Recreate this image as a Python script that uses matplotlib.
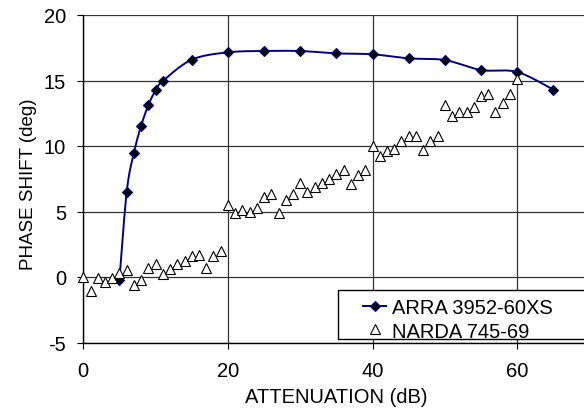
import numpy as np
import matplotlib
matplotlib.use("Agg")
import matplotlib.pyplot as plt
from matplotlib.patches import Rectangle
from matplotlib.lines import Line2D

plt.rcParams['font.family'] = ['Liberation Sans', 'DejaVu Sans']
plt.rcParams['axes.unicode_minus'] = False

# ---- data ----
arra_label = "ARRA 3952-60XS"
arra_x = [5, 6, 7, 8, 9, 10, 11, 15, 20, 25, 30, 35, 40, 45, 50, 55, 60, 65]
arra_y = [-0.2, 6.5, 9.5, 11.55, 13.13, 14.25, 14.96, 16.59, 17.15, 17.25, 17.25,
          17.07, 17.0, 16.69, 16.56, 15.8, 15.65, 14.3]

narda_label = "NARDA 745-69"
narda_x = list(range(0, 61))
narda_y = [0.0, -1.1, -0.1, -0.4, -0.1, 0.3, 0.5, -0.6, -0.2, 0.7,
           1.0, 0.2, 0.6, 1.0, 1.2, 1.6, 1.7, 0.7, 1.6, 2.0,
           5.5, 4.9, 5.1, 5.0, 5.3, 6.1, 6.3, 4.9, 5.9, 6.3,
           7.2, 6.5, 6.9, 7.2, 7.5, 7.9, 8.2, 7.1, 7.8, 8.2,
           10.0, 9.2, 9.6, 9.8, 10.4, 10.8, 10.8, 9.7, 10.4, 10.8,
           13.1, 12.3, 12.6, 12.6, 13.0, 13.8, 14.0, 12.6, 13.3, 14.0,
           15.1]

x_ticks = [0, 20, 40, 60]
y_ticks = [-5, 0, 5, 10, 15, 20]
x_label = "ATTENUATION (dB)"
y_label = "PHASE SHIFT (deg)"


def smooth_curve(xs, ys, n=30):
    """Excel-style smoothed line (cardinal/Catmull-Rom Bezier through points)."""
    P = np.column_stack([xs, ys]).astype(float)
    out = []
    m = len(P)
    t = np.linspace(0, 1, n)[:, None]
    for i in range(m - 1):
        p0 = P[i - 1] if i > 0 else P[i]
        p1 = P[i]
        p2 = P[i + 1]
        p3 = P[i + 2] if i + 2 < m else P[i + 1]
        c1 = p1 + (p2 - p0) / 6.0
        c2 = p2 - (p3 - p1) / 6.0
        seg = ((1 - t) ** 3) * p1 + 3 * ((1 - t) ** 2) * t * c1 + 3 * (1 - t) * t ** 2 * c2 + t ** 3 * p2
        out.append(seg if i == 0 else seg[1:])
    out = np.vstack(out)
    return out[:, 0], out[:, 1]


FS = 14.5
W, H = 584, 410
fig = plt.figure(figsize=(W / 100, H / 100), dpi=100)
ax_l, ax_r, ax_t, ax_b = 83.3, 589.5, 16.0, 343.5
ax = fig.add_axes([ax_l / W, 1 - ax_b / H, (ax_r - ax_l) / W, (ax_b - ax_t) / H])

ax.set_xlim(0, 70)
ax.set_ylim(-5, 20)
ax.set_xticks(x_ticks)
ax.set_yticks(y_ticks)
ax.tick_params(axis='both', direction='out', length=4.3, width=0.8, labelsize=FS,
               color='black')
ax.tick_params(axis='y', pad=8)
ax.tick_params(axis='x', pad=9)

ax.grid(True, color='#333333', linewidth=0.9)
ax.set_axisbelow(True)
for s in ['top', 'right']:
    ax.spines[s].set_visible(False)
for s in ['left', 'bottom']:
    ax.spines[s].set_color('black')
    ax.spines[s].set_linewidth(1.0)

sx, sy = smooth_curve(arra_x, arra_y)
ax.plot(sx, sy, color='#000080', linewidth=1.4, zorder=3)
ax.plot(arra_x, arra_y, linestyle='none', marker='D', markersize=5.2,
        markerfacecolor='black', markeredgecolor='#000080', markeredgewidth=0.8,
        zorder=4, clip_on=False)
ax.plot(narda_x, narda_y, linestyle='none', marker='^', markersize=6.5,
        markerfacecolor='white', markeredgecolor='black', markeredgewidth=0.8,
        zorder=5, clip_on=False)

ax.set_xlabel(x_label, fontsize=FS)
ax.set_ylabel(y_label, fontsize=13.5)
ax.xaxis.set_label_coords(0.5, -0.137)
ax.yaxis.set_label_coords(-0.0915, 0.485)

# legend frame
aw = ax_r - ax_l
ah = ax_b - ax_t
rx0 = (338 - ax_l) / aw
ry0 = (ax_b - 340) / ah
ry1 = (ax_b - 291) / ah
rect = Rectangle((rx0, ry0), 1.2 - rx0, ry1 - ry0, transform=ax.transAxes,
                 facecolor='white', edgecolor='black', linewidth=1.0,
                 clip_on=False, zorder=10)
ax.add_patch(rect)

h1 = Line2D([], [], color='#000080', linewidth=1.4, marker='D', markersize=5.2,
            markerfacecolor='black', markeredgecolor='#000080', markeredgewidth=0.8)
h2 = Line2D([], [], linestyle='none', marker='^', markersize=6.5,
            markerfacecolor='white', markeredgecolor='black', markeredgewidth=0.8)
leg = ax.legend([h1, h2], [arra_label, narda_label], loc='center left',
                bbox_to_anchor=((363 - ax_l) / aw, (ax_b - 320.5) / ah),
                frameon=False, fontsize=FS, borderpad=0, borderaxespad=0,
                handlelength=1.15, handletextpad=0.3, labelspacing=0.2)
leg.set_zorder(11)

fig.savefig("out.png", dpi=100)
